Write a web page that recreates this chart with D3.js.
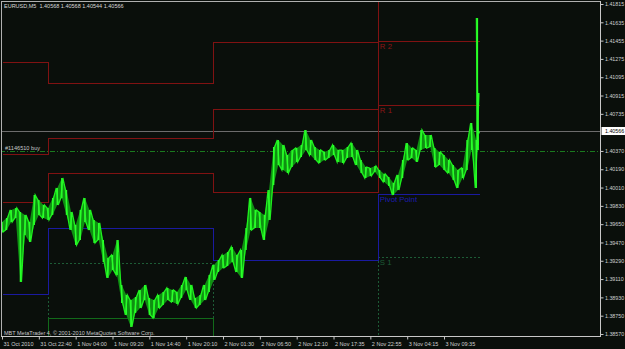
<!DOCTYPE html>
<html><head><meta charset="utf-8">
<script src="https://cdn.jsdelivr.net/npm/d3@7"></script>
<style>html,body{margin:0;padding:0;background:#0a0f0b;overflow:hidden}svg{display:block}</style>
</head><body><svg id="c" width="625" height="349"></svg>
<script>
// ---------- data ----------
const symbolTitle = "EURUSD,M5  1.40568 1.40568 1.40544 1.40566";
const copyright = "MBT MetaTrader 4, \u00A9 2001-2010 MetaQuotes Software Corp.";
const orderLabel = "#1146510 buy";
const orderPrice = 1.40370;
const lastPrice = 1.40566;
const priceTicks = [1.41815,1.41635,1.41455,1.41275,1.41095,1.40915,1.40735,1.40370,1.40190,1.40010,1.39830,1.39650,1.39470,1.39290,1.39110,1.38930,1.38750,1.38570];
const timeTickBars = [0,64,128,192,256,320,384,448,512,576,640,704,768];
const timeTickLabels = ["31 Oct 2010","31 Oct 22:40","1 Nov 04:00","1 Nov 09:20","1 Nov 14:40","1 Nov 20:10","2 Nov 01:30","2 Nov 06:50","2 Nov 12:10","2 Nov 17:35","2 Nov 22:55","3 Nov 04:15","3 Nov 09:35"];
const dayStartBars = [0, 80, 367, 653];
const lastBar = 828;
const visibleBars = 1039;
// pivot indicator levels per day
const levelR2 = [1.41245, 1.41038, 1.41441, 1.41451];
const levelR1 = [1.40340, 1.40497, 1.40783, 1.40822];
const levelRx = [1.39868, 1.40153, 1.39967, 1.42000];
const levelPivot = [1.38964, 1.39613, 1.39298, 1.39947];
const levelS1 = [1.38000, 1.39269, 1.38000, 1.39328];
const levelS2 = [1.37800, 1.38728, 1.37800, 1.37800];
// price samples (every 8 bars, then last bars)
const sampleBars = [0,8,16,24,32,40,48,56,64,72,80,88,96,104,112,120,128,136,144,152,160,168,176,184,192,200,208,216,224,232,240,248,256,264,272,280,288,296,304,312,320,328,336,344,352,360,368,376,384,392,400,408,416,424,432,440,448,456,464,472,480,488,496,504,512,520,528,536,544,552,560,568,576,584,592,600,608,616,624,632,640,648,656,664,672,680,688,696,704,712,720,728,736,744,752,760,768,776,784,792,800,808,816,824,826,827,828];
const highs = [1.39672,1.39711,1.39790,1.39809,1.39770,1.39741,1.39672,1.39937,1.39888,1.39839,1.39809,1.39908,1.40006,1.40104,1.39986,1.39770,1.39642,1.39790,1.39908,1.39790,1.39691,1.39662,1.39495,1.39318,1.39347,1.39495,1.39052,1.38954,1.38905,1.38934,1.39003,1.39052,1.38925,1.38905,1.38954,1.38984,1.39023,1.39003,1.38984,1.39052,1.39131,1.39052,1.38925,1.38954,1.39052,1.39151,1.39249,1.39298,1.39347,1.39377,1.39426,1.39347,1.39396,1.39613,1.39908,1.39790,1.39770,1.39741,1.39986,1.40409,1.40478,1.40429,1.40330,1.40379,1.40399,1.40429,1.40576,1.40478,1.40409,1.40379,1.40360,1.40379,1.40429,1.40379,1.40379,1.40409,1.40448,1.40379,1.40281,1.40212,1.40203,1.40222,1.40183,1.40144,1.40114,1.40055,1.40134,1.40281,1.40448,1.40399,1.40379,1.40576,1.40527,1.40527,1.40399,1.40360,1.40330,1.40281,1.40232,1.40183,1.40203,1.40478,1.40645,1.40478,1.41677,1.40940,1.40568];
const lows = [1.39573,1.39593,1.39672,1.39711,1.39082,1.39544,1.39475,1.39642,1.39741,1.39711,1.39691,1.39741,1.39839,1.39908,1.39741,1.39593,1.39446,1.39495,1.39672,1.39593,1.39465,1.39495,1.39279,1.39121,1.39200,1.39151,1.38876,1.38758,1.38640,1.38777,1.38826,1.38905,1.38758,1.38728,1.38826,1.38856,1.38905,1.38885,1.38866,1.38925,1.39003,1.38905,1.38826,1.38856,1.38905,1.38984,1.39102,1.39180,1.39220,1.39239,1.39279,1.39180,1.39121,1.39396,1.39593,1.39613,1.39613,1.39495,1.39691,1.40035,1.40232,1.40183,1.40153,1.40212,1.40262,1.40311,1.40379,1.40330,1.40281,1.40252,1.40281,1.40301,1.40330,1.40262,1.40252,1.40301,1.40311,1.40232,1.40153,1.40104,1.40124,1.40163,1.40104,1.40065,1.40026,1.39937,1.39986,1.40104,1.40281,1.40301,1.40262,1.40379,1.40399,1.40409,1.40212,1.40232,1.40183,1.40153,1.40085,1.40006,1.40104,1.40183,1.40379,1.40006,1.40379,1.40429,1.40544];

// ---------- drawing ----------
const W = 625, H = 349;
const svg = d3.select("#c");
svg.append("rect").attr("width", W).attr("height", H).attr("fill", "#0a0f0b");
const x = d3.scaleLinear().domain([0, visibleBars]).range([2, 600]);
const y = d3.scaleLinear().domain([1.38570, 1.41815]).range([334, 4]);
const font = "'Liberation Sans', Arial, sans-serif";

svg.append("defs").append("clipPath").attr("id", "plot")
  .append("rect").attr("x", 2).attr("y", 2).attr("width", 598).attr("height", 334);
const g = svg.append("g").attr("clip-path", "url(#plot)");

// current price & order lines
g.append("line").attr("x1", 0).attr("x2", 600).attr("y1", Math.round(y(lastPrice)) + 0.5).attr("y2", Math.round(y(lastPrice)) + 0.5)
  .attr("stroke", "#6c6c6c").attr("stroke-width", 1);
g.append("line").attr("x1", 0).attr("x2", 600).attr("y1", Math.round(y(orderPrice)) + 0.5).attr("y2", Math.round(y(orderPrice)) + 0.5)
  .attr("stroke", "#1a7a1e").attr("stroke-width", 1).attr("stroke-dasharray", "5,2,1,2");
svg.append("text").attr("x", 5).attr("y", Math.round(y(orderPrice)) - 1).text(orderLabel)
  .attr("font-family", font).attr("font-size", 5.6).attr("fill", "#c8c8c8");

// pivot levels as step lines
function stepPts(vals) {
  const pts = dayStartBars.map((b, i) => [b, vals[i]]);
  pts.push([lastBar, vals[vals.length - 1]]);
  return pts;
}
const stepLine = d3.line().x(d => Math.round(x(d[0])) + 0.5).y(d => Math.round(y(d[1])) + 0.5).curve(d3.curveStepAfter);
const levels = [
  {v: levelS1, c: "#1d5c36", dash: "2,2"},
  {v: levelS2, c: "#126a1a", dash: null},
  {v: levelPivot, c: "#1a1aa0", dash: null},
  {v: levelRx, c: "#801212", dash: null},
  {v: levelR1, c: "#801212", dash: null},
  {v: levelR2, c: "#801212", dash: null}
];
levels.forEach(L => {
  const p = g.append("path").attr("d", stepLine(stepPts(L.v))).attr("fill", "none")
    .attr("stroke", L.c).attr("stroke-width", 1).attr("shape-rendering", "crispEdges");
  if (L.dash) p.attr("stroke-dasharray", L.dash);
});
// labels for current day
const lx = x(dayStartBars[3]) + 2;
[[levelR2, "R 2", "#8c1616"], [levelR1, "R 1", "#8c1616"], [levelPivot, "Pivot Point", "#1c1cb0"], [levelS1, "S 1", "#1d5c36"]]
  .forEach(([v, t, c]) => {
    g.append("text").attr("x", lx).attr("y", Math.round(y(v[3])) + 8).text(t)
      .attr("font-family", font).attr("font-size", 7.8).attr("fill", c);
  });

// price band: dark fill between highs and lows, then bright jagged strokes
const pts = sampleBars.map((b, i) => ({b, h: highs[i], l: lows[i]}));
g.append("path").datum(pts)
  .attr("d", d3.area().x(d => x(d.b)).y0(d => y(d.l)).y1(d => y(d.h)))
  .attr("fill", "#0f8f12");
const zig = [];
pts.forEach((d, i) => {
  if (i % 2 === 0) { zig.push([x(d.b) - 1, y(d.h)]); zig.push([x(d.b) + 1, y(d.l)]); }
  else { zig.push([x(d.b) - 1, y(d.l)]); zig.push([x(d.b) + 1, y(d.h)]); }
});
g.append("path").attr("d", d3.line()(zig)).attr("fill", "none")
  .attr("stroke", "#1ef01e").attr("stroke-width", 1.3);
g.selectAll("line.bar").data(pts).join("line").attr("class", "bar")
  .attr("x1", d => x(d.b)).attr("x2", d => x(d.b)).attr("y1", d => y(d.h)).attr("y2", d => y(d.l))
  .attr("stroke", "#2bff2b").attr("stroke-width", 1.4);

// frame
const frame = svg.append("g").attr("stroke", "#b0b0b0").attr("stroke-width", 1).attr("shape-rendering", "crispEdges");
frame.append("line").attr("x1", 1).attr("x2", 601).attr("y1", 1.5).attr("y2", 1.5);
frame.append("line").attr("x1", 1.5).attr("x2", 1.5).attr("y1", 1).attr("y2", 337);
frame.append("line").attr("x1", 600.5).attr("x2", 600.5).attr("y1", 1).attr("y2", 337).attr("stroke", "#c8c8c8");
frame.append("line").attr("x1", 1).attr("x2", 601).attr("y1", 336.5).attr("y2", 336.5).attr("stroke", "#c8c8c8");

// axes
const yAxis = d3.axisRight(y).tickValues(priceTicks).tickSize(3).tickSizeOuter(0).tickFormat(d3.format(".5f"));
const ya = svg.append("g").attr("transform", "translate(600.5,0)").call(yAxis);
ya.select(".domain").remove();
ya.selectAll("line").attr("stroke", "#c8c8c8");
ya.selectAll("text").attr("x", 4.5).attr("font-family", font).attr("font-size", 5.3).attr("fill", "#d0d0d0");

const xAxis = d3.axisBottom(x).tickValues(timeTickBars).tickSize(3).tickSizeOuter(0).tickFormat((d, i) => timeTickLabels[i]);
const xa = svg.append("g").attr("transform", "translate(0,336.5)").call(xAxis);
xa.select(".domain").remove();
xa.selectAll("line").attr("stroke", "#c8c8c8");
xa.selectAll("text").attr("text-anchor", "start").attr("x", 1).attr("y", 9).attr("dy", 0)
  .attr("font-family", font).attr("font-size", 5.5).attr("fill", "#d0d0d0");

// last price box
const ly = y(lastPrice);
svg.append("rect").attr("x", 601.5).attr("y", ly - 4).attr("width", 24).attr("height", 8).attr("fill", "#ffffff");
svg.append("text").attr("x", 605).attr("y", ly).attr("dy", "0.35em").text(d3.format(".5f")(lastPrice))
  .attr("font-family", font).attr("font-size", 5.3).attr("fill", "#000000");

// title & copyright
svg.append("text").attr("x", 4).attr("y", 8).text(symbolTitle)
  .attr("font-family", font).attr("font-size", 5.5).attr("fill", "#d8d8d8").style("white-space", "pre");
svg.append("text").attr("x", 4).attr("y", 335).text(copyright)
  .attr("font-family", font).attr("font-size", 5.5).attr("fill", "#c8c8c8");
</script></body></html>
